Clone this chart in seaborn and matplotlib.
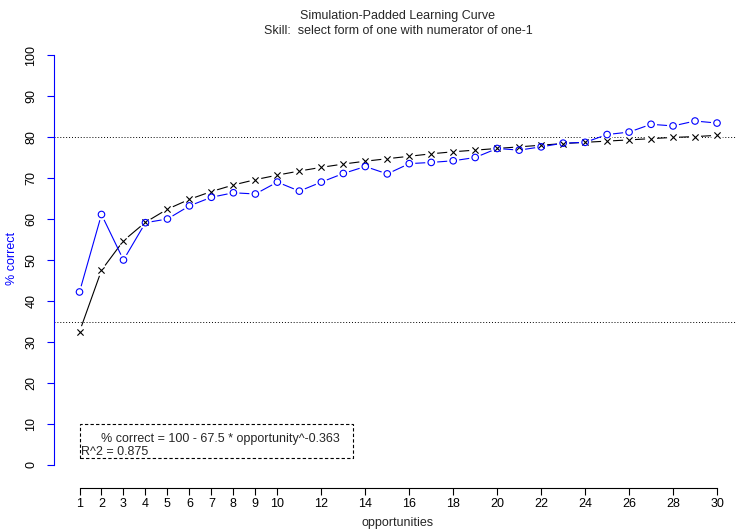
import numpy as np
import pandas as pd
import matplotlib
matplotlib.use("Agg")
import matplotlib.pyplot as plt
import seaborn as sns
from matplotlib.patches import Rectangle

# Daten
opportunities = list(range(1, 31))
observed = [42.2, 61.1, 50.0, 59.1, 60.0, 63.2, 65.3, 66.4, 66.1, 69.0,
            66.8, 69.0, 71.1, 72.8, 71.0, 73.5, 73.8, 74.2, 75.0, 77.2,
            76.8, 77.6, 78.5, 78.7, 80.6, 81.2, 83.1, 82.7, 83.9, 83.4]
predicted = [32.5, 47.5, 54.7, 59.2, 62.4, 64.8, 66.7, 68.3, 69.6, 70.7,
             71.7, 72.6, 73.4, 74.1, 74.7, 75.3, 75.9, 76.4, 76.8, 77.2,
             77.6, 78.0, 78.4, 78.7, 79.0, 79.3, 79.6, 79.9, 80.1, 80.4]
x_ticks = [1, 2, 3, 4, 5, 6, 7, 8, 9, 10, 12, 14, 16, 18, 20, 22, 24, 26, 28, 30]
y_ticks = [0, 10, 20, 30, 40, 50, 60, 70, 80, 90, 100]
ref_lines = [80, 35]

df = pd.DataFrame({"opportunity": opportunities,
                   "observed": observed,
                   "predicted": predicted})

sns.set_style("white")
plt.rcParams['font.family'] = ['Liberation Sans', 'DejaVu Sans']
fs = 9

W, H = 736, 532
fig = plt.figure(figsize=(W / 100, H / 100), dpi=100)
ax_left, ax_right, ax_top, ax_bottom = 54, 736, 38.6, 488
ax = fig.add_axes([ax_left / W, 1 - ax_bottom / H,
                   (ax_right - ax_left) / W, (ax_bottom - ax_top) / H])

blue = "#0000FF"

# Linien
sns.lineplot(data=df, x="opportunity", y="predicted", color="black",
             lw=0.8, ax=ax, zorder=1)
sns.lineplot(data=df, x="opportunity", y="observed", color=blue,
             lw=0.8, ax=ax, zorder=1)

# Luecken um die Punkte (wie type="b" in R)
for col in ["predicted", "observed"]:
    sns.scatterplot(data=df, x="opportunity", y=col, marker="o", s=75,
                    color="white", edgecolor="none", ax=ax, zorder=2)

sns.scatterplot(data=df, x="opportunity", y="predicted", marker="x", s=20,
                color="black", linewidth=0.8, ax=ax, zorder=3)
sns.scatterplot(data=df, x="opportunity", y="observed", marker="o", s=22,
                facecolor="none", edgecolor=blue, linewidth=0.8, ax=ax, zorder=3)

for v in ref_lines:
    ax.axhline(v, color="black", ls=(0, (1, 2)), lw=0.7, zorder=0)

ax.set_xlim(-0.16, 1 + (ax_right - 79) / 22)
ax.set_ylim((465 - ax_bottom) / 4.1, (465 - ax_top) / 4.1)

for s in ["top", "right"]:
    ax.spines[s].set_visible(False)
ax.spines["left"].set_bounds(0, 100)
ax.spines["left"].set_color(blue)
ax.spines["bottom"].set_bounds(1, 30)
ax.spines["bottom"].set_color("black")
ax.spines["left"].set_linewidth(0.8)
ax.spines["bottom"].set_linewidth(0.8)

ax.set_xticks(x_ticks)
ax.set_xticklabels([str(t) for t in x_ticks])
ax.set_yticks(y_ticks)
ax.set_yticklabels([str(t) for t in y_ticks], rotation=90, va="center")
ax.tick_params(axis="x", direction="out", length=5, width=0.8, pad=2,
               labelsize=fs, colors="black", bottom=True)
ax.tick_params(axis="y", direction="out", length=5, width=0.8, pad=7,
               labelsize=fs, color=blue, labelcolor="black", left=True)

ax.set_ylabel("% correct", color=blue, fontsize=fs)
ax.yaxis.set_label_coords(-(54 - 17.5) / (ax_right - ax_left), (ax_bottom - 258) / (ax_bottom - ax_top))
ax.set_xlabel("opportunities", fontsize=fs)
ax.xaxis.set_label_coords((398 - ax_left) / (ax_right - ax_left), -(517 - ax_bottom) / (ax_bottom - ax_top))

# Titel
fig.text(398 / W, 1 - 16 / H, "Simulation-Padded Learning Curve",
         ha="center", va="center", fontsize=fs)
fig.text(398 / W, 1 - 31 / H, "Skill:  select form of one with numerator of one-1",
         ha="center", va="center", fontsize=fs)

# Legendenkasten
box = Rectangle((80 / W, 1 - 458 / H), (353 - 80) / W, (458 - 424) / H,
                transform=fig.transFigure, fill=False, ls=(0, (3, 2)),
                lw=0.8, edgecolor="black")
fig.add_artist(box)
fig.text(101 / W, 1 - 439 / H, "% correct = 100 - 67.5 * opportunity^-0.363",
         ha="left", va="center", fontsize=fs)
fig.text(81 / W, 1 - 452 / H, "R^2 = 0.875", ha="left", va="center", fontsize=fs)

fig.savefig("out.png", dpi=100)
